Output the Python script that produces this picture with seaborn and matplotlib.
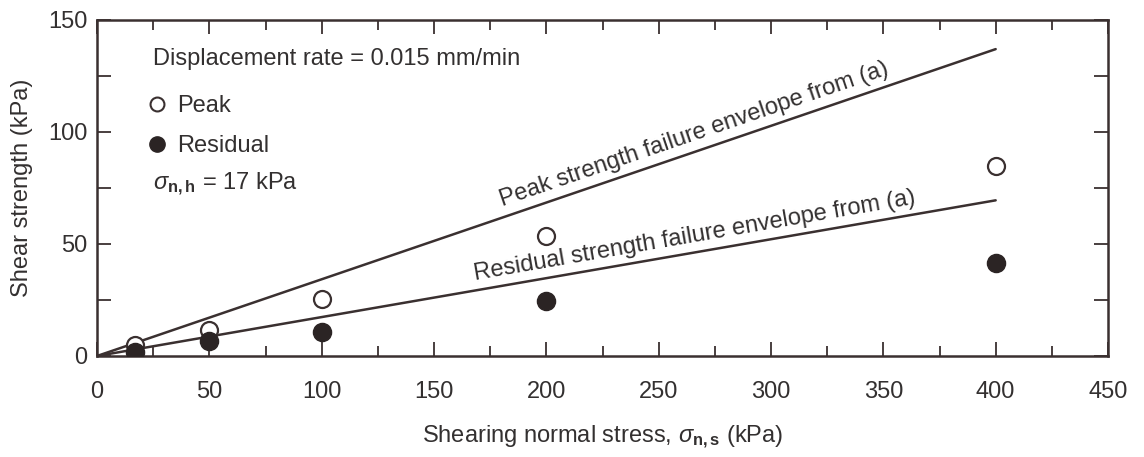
import matplotlib
matplotlib.use("Agg")
import matplotlib.pyplot as plt
import seaborn as sns
import pandas as pd
import numpy as np
from matplotlib.ticker import MultipleLocator, FixedLocator
from matplotlib.lines import Line2D

# ---- data ----
normal_stress = [17, 50, 100, 200, 400]
peak_strength = [5.0, 11.5, 25.5, 53.5, 85.0]
residual_strength = [2.0, 6.5, 10.5, 24.5, 41.5]

envelope_x = [0, 400]
peak_envelope = [0, 137]
residual_envelope = [0, 69.5]

x_ticks = [0, 50, 100, 150, 200, 250, 300, 350, 400, 450]
y_ticks = [0, 50, 100, 150]

sns.set_theme(style="white")
plt.rcParams['font.family'] = ['Liberation Sans', 'DejaVu Sans']
plt.rcParams['mathtext.fontset'] = 'custom'
plt.rcParams['mathtext.rm'] = 'Liberation Sans'
plt.rcParams['mathtext.it'] = 'Liberation Sans:italic'
plt.rcParams['mathtext.bf'] = 'Liberation Sans:bold'

ink = "#3a3030"
txt = "#333030"
FS = 17

fig = plt.figure(figsize=(11.44, 4.57), dpi=100)
ax = fig.add_axes([97/1144, 1 - 356/457, (1108 - 97)/1144, (356 - 20)/457])

df_peak = pd.DataFrame({"x": normal_stress, "y": peak_strength})
df_res = pd.DataFrame({"x": normal_stress, "y": residual_strength})
df_pe = pd.DataFrame({"x": envelope_x, "y": peak_envelope})
df_re = pd.DataFrame({"x": envelope_x, "y": residual_envelope})

sns.lineplot(data=df_pe, x="x", y="y", ax=ax, color=ink, lw=1.8)
sns.lineplot(data=df_re, x="x", y="y", ax=ax, color=ink, lw=1.8)
sns.scatterplot(data=df_peak, x="x", y="y", ax=ax, marker="o", s=150,
                facecolor="white", edgecolor=ink, linewidth=1.6, zorder=5)
sns.scatterplot(data=df_res, x="x", y="y", ax=ax, marker="o", s=170,
                color="#2b2424", edgecolor="#2b2424", linewidth=1, zorder=5)

ax.set_xlim(0, 450)
ax.set_ylim(0, 150)
ax.xaxis.set_major_locator(FixedLocator(x_ticks))
ax.yaxis.set_major_locator(FixedLocator(y_ticks))
ax.xaxis.set_minor_locator(MultipleLocator(25))
ax.yaxis.set_minor_locator(MultipleLocator(25))
ax.tick_params(axis="both", which="both", direction="in", top=True, right=True,
               bottom=True, left=True, colors=ink, labelcolor=txt,
               labelsize=FS, width=1.3)
ax.tick_params(axis="x", which="major", length=10, pad=18)
ax.tick_params(axis="x", which="minor", length=7)
ax.tick_params(axis="y", which="major", length=10, pad=7)
ax.tick_params(axis="y", which="minor", length=10)
for sp in ax.spines.values():
    sp.set_color(ink)
    sp.set_linewidth(1.8)

ax.set_xlabel(r"Shearing normal stress, $\sigma_{\mathbf{n,s}}$ (kPa)", fontsize=FS,
              color=txt, labelpad=15)
ax.set_ylabel("Shear strength (kPa)", fontsize=FS, color=txt, labelpad=11)

# annotations
ax.text(0.055, 0.883, "Displacement rate = 0.015 mm/min", transform=ax.transAxes,
        fontsize=FS, color=txt, va="center", ha="left")
handles = [Line2D([], [], ls="none", marker="o", ms=10, mfc="white", mec=ink, mew=1.5),
           Line2D([], [], ls="none", marker="o", ms=11, mfc="#2b2424", mec="#2b2424")]
leg = ax.legend(handles, ["Peak", "Residual"], loc="upper left",
                bbox_to_anchor=(0.052, 0.777), frameon=False, fontsize=FS,
                handlelength=0.6, handletextpad=0.55, labelspacing=0.76,
                borderaxespad=0, borderpad=0)
for t in leg.get_texts():
    t.set_color(txt)
ax.text(0.055, 0.51, r"$\sigma_{\mathbf{n,h}}$ = 17 kPa", transform=ax.transAxes,
        fontsize=FS, color=txt, va="center", ha="left")

# envelope labels, rotated to follow lines in display space
def line_angle(x0, y0, x1, y1):
    p0 = ax.transData.transform((x0, y0))
    p1 = ax.transData.transform((x1, y1))
    return np.degrees(np.arctan2(p1[1] - p0[1], p1[0] - p0[0]))

a_peak = line_angle(0, 0, envelope_x[1], peak_envelope[1])
a_res = line_angle(0, 0, envelope_x[1], residual_envelope[1])
xm = 266
ax.text(xm, peak_envelope[1] / 400 * xm + 8, "Peak strength failure envelope from (a)",
        rotation=a_peak, rotation_mode="anchor", ha="center", va="center",
        fontsize=FS, color=txt)
ax.text(xm, residual_envelope[1] / 400 * xm + 7.5, "Residual strength failure envelope from (a)",
        rotation=a_res, rotation_mode="anchor", ha="center", va="center",
        fontsize=FS, color=txt)

fig.savefig("out.png", dpi=100, facecolor="white")
